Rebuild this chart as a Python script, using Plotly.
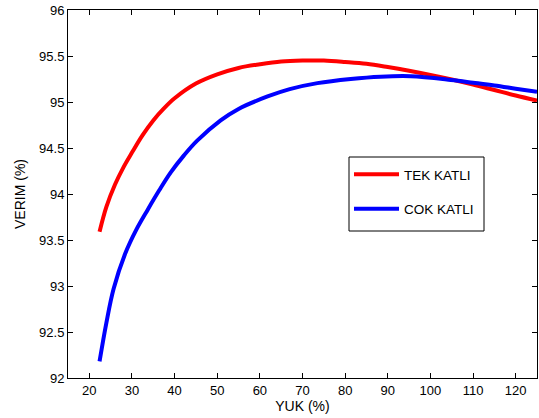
import plotly.graph_objects as go

yuk_tek = [22.4, 24, 26, 28, 30, 32.5, 35, 37.5, 40, 45, 50, 55, 60, 65, 70, 75, 80, 85, 90, 95, 100, 105, 110,
           115, 120, 125]
tek_katli = [93.59, 93.86, 94.10, 94.29, 94.45, 94.64, 94.80, 94.93, 95.04, 95.20, 95.30, 95.37, 95.41, 95.44, 95.45,
             95.45, 95.435, 95.415, 95.38, 95.34, 95.295, 95.245, 95.19, 95.13, 95.07, 95.015]

yuk_cok = [22.4, 24, 25.7, 28.4, 31, 33.7, 36.4, 39.1, 42.2, 45.3, 50.8, 55, 61.8, 67, 73.5, 81.3, 88.3, 95.4,
           104.8, 110, 115, 120, 125]
cok_katli = [92.18, 92.60, 92.97, 93.35, 93.61, 93.83, 94.04, 94.235, 94.42, 94.58, 94.80, 94.925, 95.06, 95.14,
             95.205, 95.25, 95.275, 95.28, 95.24, 95.21, 95.18, 95.145, 95.11]

x_ticks = list(range(20, 121, 10))
y_ticks = [92, 92.5, 93, 93.5, 94, 94.5, 95, 95.5, 96]
y_labels = ["92", "92.5", "93", "93.5", "94", "94.5", "95", "95.5", "96"]

FONT = "Liberation Sans, Arial, Helvetica, sans-serif"

# plot area in pixels (for placing the legend frame)
L, R, T, B = 68, 537, 10, 378
def px(x):
    return (x - L) / (R - L)
def py(y):
    return (B - y) / (B - T)

fig = go.Figure()
fig.add_trace(go.Scatter(x=yuk_tek, y=tek_katli, mode="lines", name="TEK KATLI",
                         line=dict(color="#ff0000", width=4, shape="spline", smoothing=1.0), legendgroup="a"))
fig.add_trace(go.Scatter(x=yuk_cok, y=cok_katli, mode="lines", name="COK KATLI",
                         line=dict(color="#0000ff", width=4, shape="spline", smoothing=1.0), legendgroup="b"))

axis_common = dict(showline=True, linecolor="black", linewidth=1, mirror="ticks", ticks="inside",
                   ticklen=5, tickcolor="black", showgrid=False, zeroline=False,
                   tickfont=dict(family=FONT, size=13, color="black"))

fig.update_xaxes(range=[15, 125], tickvals=x_ticks,
                 title=dict(text="YUK (%)", font=dict(family=FONT, size=14, color="black"), standoff=2),
                 **axis_common)
fig.update_yaxes(range=[92, 96], tickvals=y_ticks, ticktext=y_labels,
                 title=dict(text="VERIM (%)", font=dict(family=FONT, size=14, color="black"), standoff=10),
                 **axis_common)

fig.add_shape(type="rect", xref="paper", yref="paper",
              x0=px(349), x1=px(484), y0=py(231), y1=py(157),
              line=dict(color="black", width=1), fillcolor="white", layer="above")

fig.update_layout(
    width=539, height=418,
    margin=dict(l=L, r=539 - R, t=T, b=418 - B),
    plot_bgcolor="white", paper_bgcolor="white",
    legend=dict(x=px(349), y=py(159), xanchor="left", yanchor="top",
                borderwidth=0, bgcolor="rgba(0,0,0,0)",
                font=dict(family=FONT, size=13.5, color="black"),
                itemwidth=45, tracegroupgap=14),
)

fig.write_html("out.html", config={"displayModeBar": False},
               post_script="document.body.style.margin='0';")
